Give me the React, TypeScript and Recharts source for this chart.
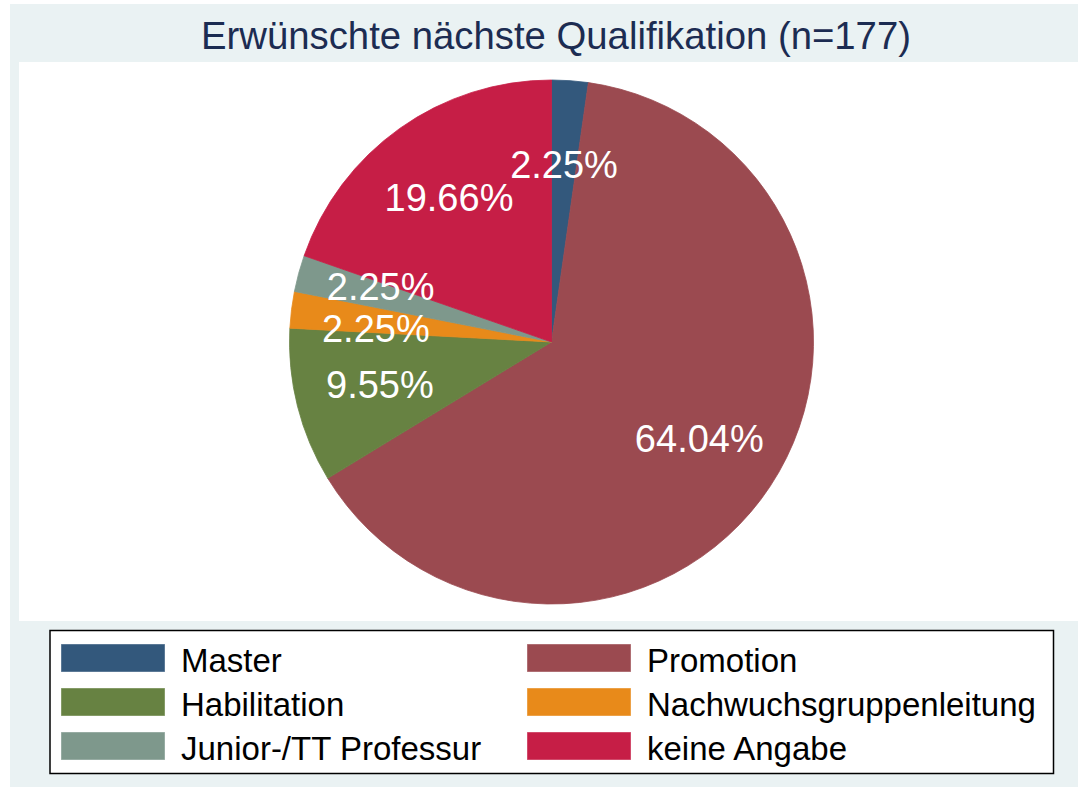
import React from "react";
import { PieChart, Pie, Cell } from "recharts";

const categories = [
  "Master",
  "Promotion",
  "Habilitation",
  "Nachwuchsgruppenleitung",
  "Junior-/TT Professur",
  "keine Angabe",
];
const percentages = [2.25, 64.04, 9.55, 2.25, 2.25, 19.66];
const colors = ["#33587C", "#9B4A50", "#678242", "#E88A1A", "#7E988C", "#C61E46"];
const titleText = "Erwünschte nächste Qualifikation (n=177)";
// legend layout: two columns, entries in row-major order
const legendOrder = [0, 1, 2, 3, 4, 5];

const data = categories.map((name, i) => ({ name, value: percentages[i] }));

const FONT = "'Liberation Sans', Arial, Helvetica, sans-serif";
const W = 1078;
const H = 787;
const CX = 551.5;
const CY = 342;
const R = 262;
const LABEL_R = 177;
const LABEL_FS = 38;

// compute label positions from the data, then relax overlaps vertically
function computeLabelPositions() {
  const total = percentages.reduce((a, b) => a + b, 0);
  let acc = 0;
  const pos = percentages.map((v) => {
    const midFrac = (acc + v / 2) / total;
    acc += v;
    const ang = midFrac * 2 * Math.PI; // clockwise from top
    const text = v.toFixed(2) + "%";
    return {
      x: CX + LABEL_R * Math.sin(ang),
      y: CY - LABEL_R * Math.cos(ang),
      w: text.length * 0.54 * LABEL_FS,
      text,
    };
  });
  const minGap = 42;
  for (let it = 0; it < 50; it++) {
    let moved = false;
    for (let i = 0; i < pos.length; i++) {
      for (let j = i + 1; j < pos.length; j++) {
        const a = pos[i];
        const b = pos[j];
        const hOverlap = Math.abs(a.x - b.x) < (a.w + b.w) / 2;
        const dy = b.y - a.y;
        if (hOverlap && Math.abs(dy) < minGap) {
          const push = (minGap - Math.abs(dy)) / 2 + 0.01;
          const s = dy >= 0 ? 1 : -1;
          a.y -= s * push;
          b.y += s * push;
          moved = true;
        }
      }
    }
    if (!moved) break;
  }
  return pos;
}

const labelPositions = computeLabelPositions();

const renderLabel = (props: any) => {
  const idx = props.index;
  const p = labelPositions[idx];
  return (
    <text
      x={p.x}
      y={p.y}
      fill="#ffffff"
      textAnchor="middle"
      dominantBaseline="central"
      style={{ fontFamily: FONT, fontSize: LABEL_FS }}
    >
      {p.text}
    </text>
  );
};

export default function App() {
  return (
    <div
      style={{
        position: "absolute",
        left: 0,
        top: 0,
        width: W,
        height: H,
        background: "#ffffff",
        overflow: "hidden",
      }}
    >
      <svg
        width={W}
        height={H}
        style={{ position: "absolute", left: 0, top: 0 }}
      >
        <rect x={10} y={4} width={W - 10} height={H - 4} fill="#EAF2F3" />
        <rect x={19} y={62} width={W - 19} height={559} fill="#ffffff" />
        <text
          x={556}
          y={49}
          textAnchor="middle"
          fill="#1C2C52"
          style={{ fontFamily: FONT, fontSize: 38.3 }}
        >
          {titleText}
        </text>
        <rect
          x={50}
          y={630.5}
          width={1003.5}
          height={143}
          fill="#ffffff"
          stroke="#000000"
          strokeWidth={1.5}
        />
        {legendOrder.map((ci, k) => {
          const col = k % 2;
          const row = Math.floor(k / 2);
          const rx = col === 0 ? 61 : 527;
          const ry = 644 + row * 44;
          return (
            <g key={ci}>
              <rect
                x={rx}
                y={ry}
                width={104}
                height={28}
                fill={colors[ci]}
                stroke="#ffffff"
                strokeOpacity={0.4}
                strokeWidth={1}
              />
              <text
                x={rx + 120}
                y={ry + 28}
                fill="#000000"
                style={{ fontFamily: FONT, fontSize: 33 }}
              >
                {categories[ci]}
              </text>
            </g>
          );
        })}
      </svg>
      <div style={{ position: "absolute", left: 0, top: 0 }}>
        <PieChart
          width={W}
          height={H}
          margin={{ top: 0, right: 0, bottom: 0, left: 0 }}
        >
          <Pie
            data={data}
            dataKey="value"
            nameKey="name"
            cx={CX}
            cy={CY}
            outerRadius={R}
            innerRadius={0}
            startAngle={90}
            endAngle={-270}
            label={renderLabel}
            labelLine={false}
            isAnimationActive={false}
            stroke="none"
          >
            {data.map((d, i) => (
              <Cell
                key={d.name}
                fill={colors[i]}
                stroke={colors[i]}
                strokeWidth={0.8}
              />
            ))}
          </Pie>
        </PieChart>
      </div>
    </div>
  );
}
